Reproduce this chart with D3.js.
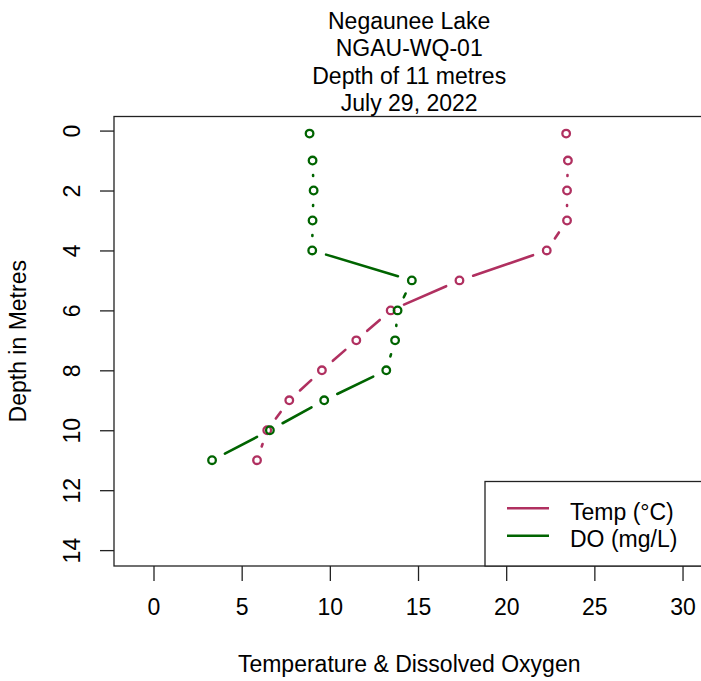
<!DOCTYPE html>
<html>
<head>
<meta charset="utf-8">
<script src="https://cdn.jsdelivr.net/npm/d3@7/dist/d3.min.js"></script>
<style>
  html, body { margin: 0; padding: 0; background: #fff; }
  svg { display: block; }
  text { font-family: "Liberation Sans", Arial, sans-serif; fill: #000; }
</style>
</head>
<body>
<svg id="chart" width="701" height="681"></svg>
<script>
// Profile readings, one per sampling depth
const depths = [0.1, 1, 2, 3, 4, 5, 6, 7, 8, 9, 10, 11];
const tempC = [23.4, 23.5, 23.45, 23.45, 22.3, 17.35, 13.45, 11.5, 9.55, 7.7, 6.45, 5.87];
const doMgL = [8.85, 9.02, 9.08, 9.02, 9.0, 14.65, 13.84, 13.7, 13.2, 9.68, 6.6, 3.32];

const xTicks = [0, 5, 10, 15, 20, 25, 30];
const yTicks = [0, 2, 4, 6, 8, 10, 12, 14];
const titleLines = ["Negaunee Lake", "NGAU-WQ-01", "Depth of 11 metres", "July 29, 2022"];
const seriesNames = ["Temp (°C)", "DO (mg/L)"];
const seriesColors = ["#b03060", "#006400"];

const svg = d3.select("#chart");
const fontSize = 23;

// Plot region
const plotL = 114, plotT = 116.5, plotR = 704.4, plotB = 566;

const x = d3.scaleLinear().domain([-2.24, 31.24]).range([plotL, plotR]);
const y = d3.scaleLinear().domain([-0.47, 14.53]).range([plotT, plotB]);

// Frame
svg.append("rect")
  .attr("x", plotL).attr("y", plotT)
  .attr("width", plotR - plotL).attr("height", plotB - plotT)
  .attr("fill", "none").attr("stroke", "#222").attr("stroke-width", 1.3);

// Bottom axis
const xAxis = svg.append("g").attr("transform", `translate(0,${plotB})`)
  .call(d3.axisBottom(x).tickValues(xTicks).tickSize(15).tickPadding(0).tickFormat(d3.format("d")));
xAxis.select(".domain").remove();
xAxis.selectAll("line").attr("stroke", "#222").attr("stroke-width", 1.3);
xAxis.selectAll("text").attr("font-size", fontSize).attr("y", 49).attr("dy", null)
  .attr("fill", "#000").attr("font-family", "Liberation Sans, Arial, sans-serif");

// Left axis with labels running along the axis
const yAxis = svg.append("g").attr("transform", `translate(${plotL},0)`)
  .call(d3.axisLeft(y).tickValues(yTicks).tickSize(14).tickFormat(d3.format("d")));
yAxis.select(".domain").remove();
yAxis.selectAll("line").attr("stroke", "#222").attr("stroke-width", 1.3);
yAxis.selectAll("text").remove();
yAxis.selectAll(".tick").append("text")
  .attr("x", -34).attr("y", 0)
  .attr("transform", "rotate(-90,-34,0)")
  .attr("text-anchor", "middle")
  .attr("font-size", fontSize)
  .attr("font-family", "Liberation Sans, Arial, sans-serif")
  .attr("fill", "#000")
  .text(d => d);

// Titles
const cx = (plotL + plotR) / 2;
svg.append("g").selectAll("text").data(titleLines).join("text")
  .attr("x", cx).attr("y", (d, i) => 28.5 + i * 27.5)
  .attr("text-anchor", "middle").attr("font-size", fontSize)
  .text(d => d);

svg.append("text")
  .attr("x", cx).attr("y", 672)
  .attr("text-anchor", "middle").attr("font-size", fontSize)
  .text("Temperature & Dissolved Oxygen");

svg.append("text")
  .attr("transform", `translate(26,${(plotT + plotB) / 2}) rotate(-90)`)
  .attr("text-anchor", "middle").attr("font-size", fontSize)
  .text("Depth in Metres");

// Points joined by segments that stop short of each marker
const gap = 14.5;
function drawSeries(values, color) {
  const pts = depths.map((d, i) => [x(values[i]), y(d)]);
  const g = svg.append("g");
  const segs = [];
  for (let i = 0; i < pts.length - 1; i++) {
    const [x0, y0] = pts[i], [x1, y1] = pts[i + 1];
    const len = Math.hypot(x1 - x0, y1 - y0);
    if (len <= 2 * gap) continue;
    const ux = (x1 - x0) / len, uy = (y1 - y0) / len;
    segs.push([x0 + ux * gap, y0 + uy * gap, x1 - ux * gap, y1 - uy * gap]);
  }
  g.selectAll("line").data(segs).join("line")
    .attr("x1", d => d[0]).attr("y1", d => d[1])
    .attr("x2", d => d[2]).attr("y2", d => d[3])
    .attr("stroke", color).attr("stroke-width", 2.6).attr("stroke-linecap", "round");
  g.selectAll("circle").data(pts).join("circle")
    .attr("cx", d => d[0]).attr("cy", d => d[1]).attr("r", 3.8)
    .attr("fill", "none").attr("stroke", color).attr("stroke-width", 2.3);
}
drawSeries(tempC, seriesColors[0]);
drawSeries(doMgL, seriesColors[1]);

// Legend
const lg = svg.append("g");
lg.append("rect")
  .attr("x", 485).attr("y", 481.5).attr("width", 240).attr("height", plotB - 481.5)
  .attr("fill", "#fff").attr("stroke", "#222").attr("stroke-width", 1.3);
seriesNames.forEach((name, i) => {
  const ly = 508.3 + i * 27.4;
  lg.append("line").attr("x1", 507).attr("x2", 549).attr("y1", ly).attr("y2", ly)
    .attr("stroke", seriesColors[i]).attr("stroke-width", 2.6);
  lg.append("text").attr("x", 570).attr("y", ly + 11.5).attr("font-size", fontSize).text(name);
});
</script>
</body>
</html>
